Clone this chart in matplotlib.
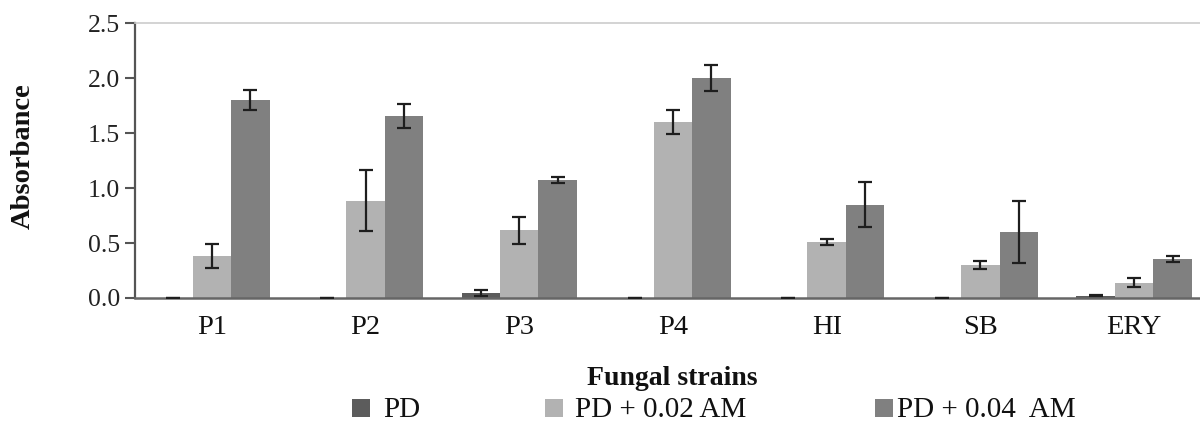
import matplotlib
matplotlib.use("Agg")
import matplotlib.pyplot as plt
from matplotlib.patches import Rectangle
import numpy as np

plt.rcParams['font.family'] = ['Liberation Serif', 'DejaVu Serif']

strains = ["P1", "P2", "P3", "P4", "HI", "SB", "ERY"]
series_names = ["PD", "PD + 0.02 AM", "PD + 0.04  AM"]

pd_mean = [0.0, 0.0, 0.048, 0.0, 0.0, 0.0, 0.02]
pd_err = [0.0, 0.0, 0.028, 0.0, 0.0, 0.0, 0.005]

am02_mean = [0.38, 0.885, 0.615, 1.60, 0.505, 0.30, 0.14]
am02_err = [0.11, 0.275, 0.125, 0.11, 0.027, 0.04, 0.04]

am04_mean = [1.80, 1.655, 1.075, 2.0, 0.85, 0.60, 0.355]
am04_err = [0.095, 0.11, 0.027, 0.115, 0.205, 0.285, 0.03]

colors = ["#5c5c5c", "#b2b2b2", "#808080"]

W, H = 1200, 421
fig = plt.figure(figsize=(W / 100, H / 100), dpi=100)
ax = fig.add_axes([135 / W, (H - 298) / H, (1211 - 135) / W, (298 - 23) / H])

x = np.arange(len(strains))
bw = 0.25
means = [pd_mean, am02_mean, am04_mean]
errs = [pd_err, am02_err, am04_err]
for i, (m, e, c) in enumerate(zip(means, errs, colors)):
    ax.bar(x + (i - 1) * bw, m, width=bw, color=c, edgecolor='none', zorder=2)
    ax.errorbar(x + (i - 1) * bw, m, yerr=e, fmt='none', ecolor='#1e1e1e',
                elinewidth=1.6, capsize=4.7, capthick=1.6, zorder=3)

ax.set_xlim(-0.5, 6.5)
ax.set_ylim(0, 2.5)
ax.set_yticks([0, 0.5, 1.0, 1.5, 2.0, 2.5])
ax.set_yticklabels(["0.0", "0.5", "1.0", "1.5", "2.0", "2.5"])
ax.set_xticks(x)
ax.set_xticklabels(strains)

ax.tick_params(axis='y', length=7.2, width=1.5, color='#555555', pad=3.5,
               labelsize=18.5, labelcolor='#222222')
ax.tick_params(axis='x', length=0, pad=12, labelsize=20.5, labelcolor='#111111')

ax.spines['left'].set_color('#555555')
ax.spines['left'].set_linewidth(1.6)
ax.spines['bottom'].set_color('#666666')
ax.spines['bottom'].set_linewidth(1.8)
ax.spines['top'].set_color('#cccccc')
ax.spines['top'].set_linewidth(1.2)
ax.spines['right'].set_visible(False)

fig.text(23 / W, 1 - 156 / H, "Absorbance", rotation=90, ha='center', va='center',
         fontsize=20.5, fontweight='bold', color='#111111')
fig.text(672 / W, 1 - 385 / H, "Fungal strains", ha='center', va='baseline',
         fontsize=20, fontweight='bold', color='#111111')

# legend row
legend_items = [(352, 383), (545, 575), (875, 897)]
for (sq_x, tx_x), name, c in zip(legend_items, series_names, colors):
    fig.patches.append(Rectangle((sq_x / W, 1 - 417 / H), 18 / W, 18 / H,
                                 transform=fig.transFigure, facecolor=c,
                                 edgecolor='none'))
    fig.text(tx_x / W, 1 - 417 / H, name, ha='left', va='baseline',
             fontsize=21, color='#111111')

fig.savefig("out.png", dpi=100)
